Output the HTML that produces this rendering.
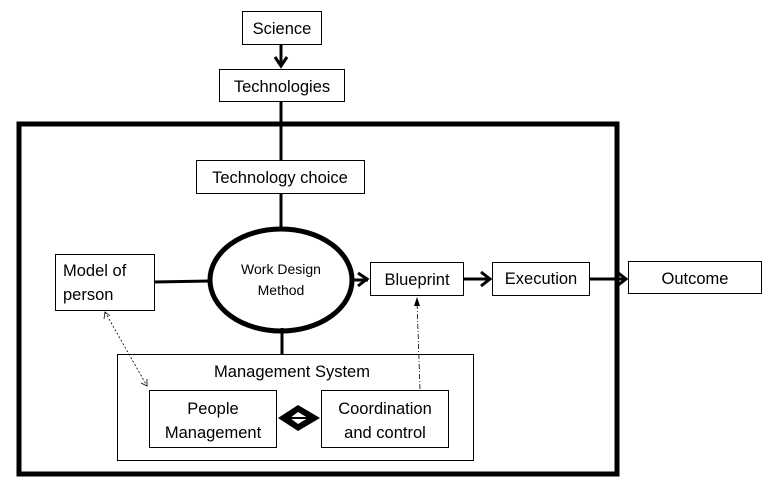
<!DOCTYPE html>
<html><head><style>body{margin:0;background:#fff}</style></head><body>
<svg width="768" height="484" xmlns="http://www.w3.org/2000/svg" font-family="Liberation Sans, sans-serif" font-size="16.5" fill="#000">
<rect x="0" y="0" width="768" height="484" fill="#fff"/>
<g stroke="#000" fill="none">
<rect x="19" y="124" width="598" height="350" stroke-width="5"/>
<line x1="281" y1="44" x2="281" y2="66" stroke-width="3"/>
<polyline points="275,57 281,66 287,57" stroke-width="3"/>
<line x1="281" y1="101" x2="281" y2="160" stroke-width="3"/>
<line x1="281" y1="193" x2="281" y2="230" stroke-width="3"/>
<line x1="154" y1="282" x2="210" y2="281" stroke-width="3"/>
<line x1="282" y1="328" x2="282" y2="354" stroke-width="3"/>
<ellipse cx="281" cy="280" rx="71" ry="51" stroke-width="5"/>
<line x1="351" y1="280" x2="368" y2="280" stroke-width="3"/>
<polyline points="358,273 367,279 358,286" stroke-width="3"/>
<line x1="463" y1="279" x2="490" y2="279" stroke-width="3"/>
<polyline points="481,272 490,279 481,286" stroke-width="3"/>
<line x1="589" y1="279" x2="626" y2="279" stroke-width="3"/>
<polyline points="617,272 626,279 617,286" stroke-width="3"/>
<g stroke-width="1" fill="#fff">
<rect x="242.5" y="11.5" width="79" height="33"/>
<rect x="219.5" y="69.5" width="125" height="32"/>
<rect x="196.5" y="160.5" width="168" height="33"/>
<rect x="55.5" y="254.5" width="99" height="56"/>
<rect x="370.5" y="262.5" width="93" height="33"/>
<rect x="492.5" y="262.5" width="97" height="33"/>
<rect x="628.5" y="261.5" width="133" height="32"/>
<rect x="117.5" y="354.5" width="356" height="106"/>
<rect x="149.5" y="390.5" width="127" height="57"/>
<rect x="321.5" y="390.5" width="127" height="57"/>
</g>
<line x1="105" y1="312" x2="147" y2="386" stroke-width="0.8" stroke-dasharray="2,2"/>
<polyline points="104,319 105,312 110,316" stroke-width="0.8"/>
<polyline points="141,383 147,386 147,379" stroke-width="0.8"/>
<line x1="420" y1="389" x2="417" y2="302" stroke-width="0.8" stroke-dasharray="5,2,1,2"/>
</g>
<polygon points="414,306 417,297 420,306" fill="#000"/>
<polygon points="278,418 298,405 320,418 298,431" fill="#000"/>
<polygon points="290,418 298,412 308,418 298,424" fill="#fff"/>
<line x1="288" y1="418" x2="310" y2="418" stroke="#000" stroke-width="2"/>
<g text-anchor="middle">
<text x="282" y="34">Science</text>
<text x="282" y="92">Technologies</text>
<text x="280" y="183">Technology choice</text>
<text x="281" y="274" font-size="14">Work Design</text>
<text x="281" y="295" font-size="14">Method</text>
<text x="417" y="285">Blueprint</text>
<text x="541" y="284">Execution</text>
<text x="695" y="284">Outcome</text>
<text x="292" y="377">Management System</text>
<text x="213" y="414">People</text>
<text x="213" y="438">Management</text>
<text x="385" y="414">Coordination</text>
<text x="385" y="438">and control</text>
</g>
<text x="63" y="276">Model of</text>
<text x="63" y="300">person</text>
</svg>
</body></html>
